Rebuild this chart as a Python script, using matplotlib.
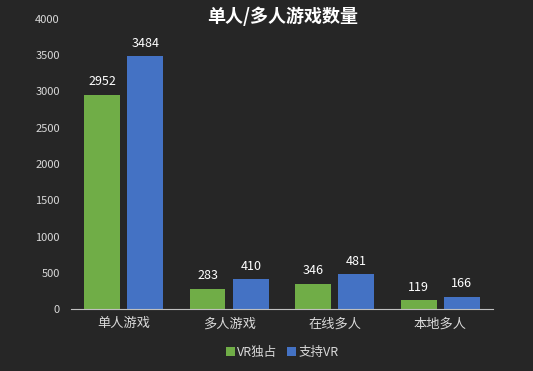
import numpy as np
import matplotlib
matplotlib.use('Agg')
import matplotlib.pyplot as plt

plt.rcParams['font.family'] = ['Noto Sans CJK SC', 'DejaVu Sans']

# data
categories = ['单人游戏', '多人游戏', '在线多人', '本地多人']
vr_only = [2952, 283, 346, 119]
vr_support = [3484, 410, 481, 166]
series_names = ['VR独占', '支持VR']

bg = '#262626'
green = '#70AD47'
blue = '#4472C4'
txt = '#D9D9D9'

fig = plt.figure(figsize=(5.33, 3.71), dpi=100, facecolor=bg)
ax = fig.add_axes([0.133, 0.167, 0.792, 0.782], facecolor=bg)

x = np.arange(len(categories))
w = 0.34
b1 = ax.bar(x - 0.205, vr_only, w, color=green, label=series_names[0])
b2 = ax.bar(x + 0.205, vr_support, w, color=blue, label=series_names[1])

# value labels above bars
for bars in (b1, b2):
    for r in bars:
        ax.text(r.get_x() + r.get_width() / 2, r.get_height() + 90, str(int(r.get_height())),
                ha='center', va='bottom', color='white', fontsize=9)

ax.set_xlim(-0.5, 3.5)
ax.set_ylim(0, 4000)
ax.set_yticks(np.arange(0, 4001, 500))
ax.set_xticks(x)
ax.set_xticklabels(categories, fontsize=9.5, color=txt)
ax.tick_params(axis='y', length=0, labelsize=8, labelcolor=txt, pad=8)
ax.tick_params(axis='x', length=0, pad=6)
for s in ['top', 'right', 'left']:
    ax.spines[s].set_visible(False)
ax.spines['bottom'].set_color('#BFBFBF')

fig.text(0.53, 0.955, '单人/多人游戏数量', ha='center', va='center', color='white',
         fontsize=13, fontweight='bold')

fig.legend(loc='center', bbox_to_anchor=(0.53, 0.05), ncol=2, frameon=False,
           fontsize=9, labelcolor=txt, handlelength=0.7, handleheight=0.7,
           handletextpad=0.2, columnspacing=0.8)

fig.savefig('out.png', facecolor=bg)
